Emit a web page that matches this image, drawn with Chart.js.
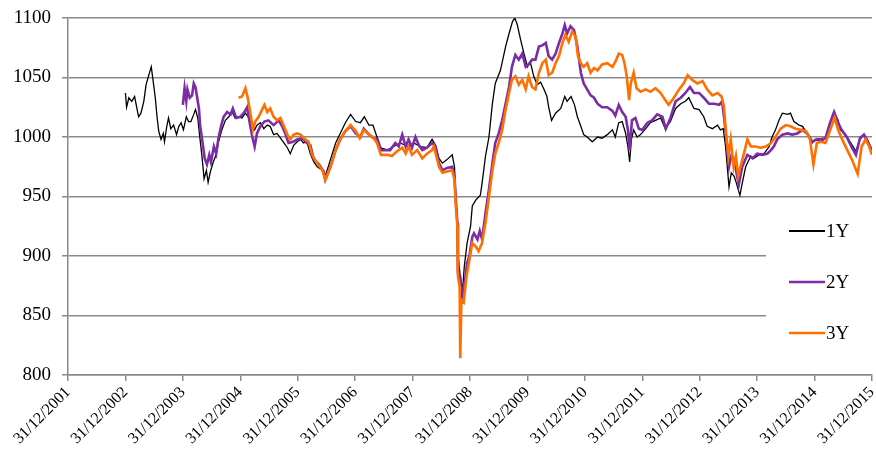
<!DOCTYPE html>
<html>
<head>
<meta charset="utf-8">
<script src="https://cdn.jsdelivr.net/npm/chart.js@4/dist/chart.umd.min.js"></script>
<style>
  html, body { margin: 0; padding: 0; background: #fff; }
  #wrap { width: 876px; height: 453px; }
</style>
</head>
<body>
<div id="wrap"><canvas id="chart" width="876" height="453"></canvas></div>
<script>
// Dados (ano decimal: 2002.0 = 31/12/2001)
const oneYDates = [2003.00,2003.02,2003.06,2003.11,2003.16,2003.20,2003.23,2003.27,2003.32,2003.36,2003.40,2003.45,2003.48,2003.52,2003.55,2003.58,2003.62,2003.66,2003.68,2003.72,2003.75,2003.79,2003.84,2003.89,2003.93,2003.97,2004.01,2004.06,2004.10,2004.14,2004.19,2004.22,2004.26,2004.29,2004.33,2004.37,2004.41,2004.44,2004.48,2004.53,2004.58,2004.62,2004.68,2004.74,2004.80,2004.86,2004.91,2004.97,2005.03,2005.09,2005.15,2005.21,2005.25,2005.29,2005.35,2005.41,2005.47,2005.52,2005.58,2005.64,2005.70,2005.76,2005.82,2005.87,2005.93,2005.99,2006.05,2006.10,2006.16,2006.22,2006.28,2006.34,2006.40,2006.45,2006.48,2006.57,2006.66,2006.74,2006.83,2006.92,2007.01,2007.09,2007.16,2007.24,2007.31,2007.38,2007.44,2007.56,2007.67,2007.79,2007.91,2008.02,2008.14,2008.25,2008.34,2008.40,2008.46,2008.52,2008.60,2008.69,2008.73,2008.75,2008.78,2008.80,2008.82,2008.85,2008.88,2008.90,2008.95,2009.01,2009.04,2009.10,2009.18,2009.21,2009.27,2009.33,2009.39,2009.44,2009.53,2009.62,2009.68,2009.74,2009.78,2009.82,2009.88,2009.94,2010.00,2010.05,2010.11,2010.17,2010.23,2010.29,2010.34,2010.37,2010.42,2010.49,2010.58,2010.65,2010.69,2010.76,2010.82,2010.87,2010.93,2010.98,2011.04,2011.13,2011.22,2011.30,2011.39,2011.48,2011.53,2011.59,2011.65,2011.71,2011.75,2011.78,2011.81,2011.85,2011.91,2011.97,2012.06,2012.14,2012.23,2012.32,2012.40,2012.49,2012.58,2012.67,2012.75,2012.81,2012.90,2012.99,2013.07,2013.13,2013.22,2013.31,2013.36,2013.41,2013.45,2013.48,2013.51,2013.55,2013.60,2013.64,2013.70,2013.74,2013.80,2013.89,2013.94,2014.03,2014.12,2014.21,2014.26,2014.32,2014.38,2014.44,2014.53,2014.58,2014.64,2014.73,2014.79,2014.87,2014.96,2015.02,2015.11,2015.19,2015.28,2015.34,2015.41,2015.45,2015.54,2015.63,2015.72,2015.79,2015.86,2015.92,2016.00];
const oneYValues = [1037,1025,1033,1030,1034,1024,1017,1020,1030,1044,1051,1059,1048,1033,1017,1005,998,1003,996,1009,1016,1007,1010,1002,1009,1012,1006,1017,1013,1013,1019,1023,1016,1002,985,965,972,962,971,979,985,996,1006,1014,1017,1021,1016,1017,1016,1020,1016,1009,1006,1010,1012,1007,1010,1009,1002,1003,999,995,991,986,993,996,998,995,996,986,979,975,973,972,967,981,995,1003,1012,1019,1013,1012,1017,1010,1010,1000,991,989,992,995,992,995,992,991,998,993,982,978,981,985,975,950,928,897,888,872,877,891,911,925,942,947,951,961,984,1000,1028,1045,1056,1076,1087,1097,1100,1095,1082,1070,1059,1063,1051,1044,1046,1040,1034,1025,1014,1020,1024,1034,1030,1034,1027,1017,1009,1002,1000,996,1000,999,1002,1006,1000,1012,1013,1003,992,979,998,1006,1000,1002,1007,1012,1014,1016,1007,1013,1024,1028,1030,1033,1024,1023,1017,1009,1007,1010,1006,1007,992,975,958,970,967,961,951,961,975,984,982,985,986,992,1000,1006,1014,1020,1019,1020,1013,1010,1009,1003,995,998,996,999,1013,1020,1014,1006,1002,995,988,998,1002,998,989];

const twoYDates = [2004.00,2004.03,2004.06,2004.08,2004.12,2004.16,2004.19,2004.22,2004.25,2004.28,2004.30,2004.35,2004.38,2004.42,2004.46,2004.49,2004.54,2004.58,2004.62,2004.67,2004.71,2004.77,2004.83,2004.87,2004.93,2005.00,2005.06,2005.12,2005.16,2005.21,2005.25,2005.29,2005.35,2005.42,2005.49,2005.58,2005.67,2005.73,2005.79,2005.84,2005.92,2005.99,2006.08,2006.16,2006.22,2006.28,2006.37,2006.45,2006.48,2006.57,2006.66,2006.74,2006.83,2006.92,2007.01,2007.09,2007.15,2007.24,2007.32,2007.39,2007.45,2007.53,2007.61,2007.70,2007.76,2007.82,2007.88,2007.93,2007.99,2008.05,2008.11,2008.17,2008.25,2008.34,2008.40,2008.46,2008.52,2008.60,2008.69,2008.73,2008.75,2008.78,2008.79,2008.83,2008.86,2008.90,2008.95,2008.99,2009.04,2009.07,2009.13,2009.17,2009.21,2009.27,2009.33,2009.39,2009.44,2009.50,2009.56,2009.62,2009.68,2009.73,2009.79,2009.85,2009.91,2009.97,2010.02,2010.08,2010.14,2010.20,2010.26,2010.32,2010.37,2010.43,2010.49,2010.55,2010.61,2010.65,2010.69,2010.75,2010.81,2010.87,2010.93,2010.98,2011.04,2011.10,2011.16,2011.22,2011.30,2011.39,2011.48,2011.53,2011.59,2011.65,2011.71,2011.75,2011.78,2011.82,2011.88,2011.94,2012.00,2012.09,2012.17,2012.26,2012.35,2012.41,2012.49,2012.58,2012.67,2012.75,2012.83,2012.90,2012.99,2013.07,2013.16,2013.25,2013.34,2013.39,2013.43,2013.47,2013.51,2013.55,2013.60,2013.64,2013.68,2013.74,2013.83,2013.92,2014.00,2014.09,2014.18,2014.24,2014.29,2014.35,2014.44,2014.53,2014.61,2014.70,2014.79,2014.87,2014.96,2015.04,2015.11,2015.19,2015.27,2015.34,2015.41,2015.47,2015.56,2015.64,2015.72,2015.79,2015.86,2015.92,2016.00];
const twoYValues = [1027,1041,1030,1040,1033,1035,1045,1042,1033,1024,1010,993,982,977,985,979,992,986,999,1010,1017,1021,1019,1024,1016,1017,1020,1025,1013,1000,992,1003,1009,1013,1014,1010,1014,1009,1002,995,996,998,999,995,993,981,977,971,964,975,989,998,1005,1009,1003,1000,1007,1002,999,998,989,989,989,995,992,1002,992,998,991,1000,993,989,991,995,992,978,972,974,975,967,950,928,886,883,866,874,894,900,916,919,914,921,914,936,956,978,995,1003,1014,1028,1042,1059,1069,1065,1070,1059,1061,1065,1065,1076,1077,1079,1068,1065,1070,1079,1087,1094,1087,1093,1090,1076,1054,1045,1040,1035,1033,1028,1025,1025,1022,1018,1027,1021,1017,1006,989,1014,1016,1007,1006,1012,1014,1019,1017,1007,1016,1030,1033,1037,1042,1037,1037,1033,1028,1028,1027,1030,1014,995,975,984,981,970,960,975,985,982,986,985,986,989,992,998,1002,1003,1002,1003,1006,1003,996,998,998,999,1012,1021,1012,1006,1000,992,985,999,1002,996,989];

const threeYDates = [2004.97,2005.03,2005.09,2005.13,2005.18,2005.22,2005.26,2005.32,2005.38,2005.42,2005.47,2005.52,2005.58,2005.64,2005.70,2005.76,2005.82,2005.87,2005.93,2005.99,2006.05,2006.13,2006.19,2006.25,2006.34,2006.43,2006.48,2006.57,2006.66,2006.74,2006.83,2006.92,2007.01,2007.08,2007.15,2007.24,2007.31,2007.38,2007.45,2007.56,2007.64,2007.73,2007.82,2007.88,2007.93,2007.99,2008.08,2008.17,2008.25,2008.34,2008.37,2008.43,2008.46,2008.52,2008.60,2008.69,2008.73,2008.75,2008.78,2008.79,2008.82,2008.83,2008.85,2008.89,2008.94,2008.98,2009.04,2009.10,2009.15,2009.21,2009.27,2009.33,2009.39,2009.44,2009.50,2009.56,2009.62,2009.68,2009.73,2009.79,2009.85,2009.91,2009.97,2010.02,2010.08,2010.14,2010.20,2010.26,2010.32,2010.37,2010.43,2010.49,2010.55,2010.61,2010.66,2010.72,2010.78,2010.84,2010.88,2010.93,2010.98,2011.04,2011.10,2011.16,2011.22,2011.30,2011.39,2011.48,2011.53,2011.59,2011.65,2011.69,2011.73,2011.77,2011.80,2011.85,2011.90,2011.97,2012.06,2012.14,2012.23,2012.32,2012.40,2012.46,2012.55,2012.64,2012.72,2012.79,2012.87,2012.96,2013.05,2013.13,2013.22,2013.31,2013.38,2013.42,2013.46,2013.50,2013.54,2013.59,2013.63,2013.67,2013.71,2013.77,2013.83,2013.89,2013.97,2014.06,2014.15,2014.24,2014.32,2014.41,2014.50,2014.58,2014.67,2014.76,2014.85,2014.92,2014.98,2015.04,2015.11,2015.19,2015.28,2015.35,2015.41,2015.48,2015.57,2015.65,2015.75,2015.82,2015.89,2015.95,2016.00];
const threeYValues = [1033,1034,1041,1033,1019,1006,1013,1017,1023,1027,1021,1024,1017,1014,1016,1009,1002,998,1002,1003,1002,998,996,985,978,972,964,975,989,998,1005,1010,1005,999,1006,1002,1000,995,985,985,984,988,991,986,992,985,989,982,986,989,992,981,975,970,971,972,964,944,925,883,874,814,863,861,883,894,911,908,904,911,928,950,972,986,995,1006,1023,1037,1048,1051,1044,1048,1040,1051,1042,1040,1054,1062,1065,1052,1054,1062,1068,1079,1086,1080,1089,1084,1068,1062,1059,1062,1054,1058,1056,1061,1062,1059,1063,1070,1069,1062,1051,1031,1045,1054,1041,1038,1040,1038,1041,1037,1031,1027,1033,1040,1045,1052,1048,1045,1047,1040,1035,1037,1034,1026,1003,984,998,975,984,967,975,986,998,992,992,991,992,995,1000,1007,1010,1009,1007,1006,1005,998,977,995,996,995,1007,1016,1006,998,989,981,969,992,998,992,985];

const yTicks = [800, 850, 900, 950, 1000, 1050, 1100];
const seriesLabels = ['1Y', '2Y', '3Y'];
const seriesColors = ['#000000', '#7a2da6', '#ff7000'];

const toPoints = (dates, values) => dates.map((d, i) => ({ x: d, y: values[i] }));
const FONT = '"Liberation Serif", "Times New Roman", serif';

// Legenda desenhada dentro da área do gráfico
const legendPlugin = {
    id: 'legendBox',
    beforeDatasetsDraw(chart) {
        const { ctx, chartArea } = chart;
        ctx.save();
        ctx.fillStyle = '#ffffff';
        ctx.fillRect(chartArea.right - 106, 204, 107, 166);
        ctx.restore();
    },
    afterDraw(chart) {
        const { ctx, chartArea } = chart;
        const x0 = chartArea.right - 83;
        ctx.save();
        ctx.font = '19px ' + FONT;
        ctx.textBaseline = 'middle';
        ctx.textAlign = 'left';
        chart.data.datasets.forEach((ds, i) => {
            const y = 231 + i * 51;
            ctx.strokeStyle = ds.borderColor;
            ctx.lineWidth = ds.borderWidth < 2 ? 1.8 : 2.5;
            ctx.beginPath();
            ctx.moveTo(x0, y);
            ctx.lineTo(x0 + 36, y);
            ctx.stroke();
            ctx.fillStyle = '#000';
            ctx.fillText(ds.label, x0 + 37, y + 1);
        });
        ctx.restore();
    }
};

new Chart(document.getElementById('chart'), {
    type: 'line',
    data: {
        datasets: [
            { label: seriesLabels[0], data: toPoints(oneYDates, oneYValues), borderColor: seriesColors[0], borderWidth: 1.3, order: 3 },
            { label: seriesLabels[1], data: toPoints(twoYDates, twoYValues), borderColor: seriesColors[1], borderWidth: 2.6, order: 2 },
            { label: seriesLabels[2], data: toPoints(threeYDates, threeYValues), borderColor: seriesColors[2], borderWidth: 2.6, order: 1 }
        ]
    },
    options: {
        responsive: false,
        animation: false,
        devicePixelRatio: 1,
        elements: { point: { radius: 0 }, line: { tension: 0, fill: false } },
        layout: { padding: { top: 18, right: 4, left: 0, bottom: 0 } },
        plugins: { legend: { display: false }, tooltip: { enabled: false } },
        scales: {
            x: {
                type: 'linear',
                min: 2002,
                max: 2016,
                afterFit: s => { s.height = 78; s.paddingLeft = 0; s.paddingRight = 0; },
                ticks: {
                    stepSize: 1,
                    autoSkip: false,
                    minRotation: 45,
                    maxRotation: 45,
                    padding: 2,
                    color: '#000',
                    font: { family: FONT, size: 16 },
                    callback: v => '31/12/' + (v - 1)
                },
                grid: { drawOnChartArea: false, drawTicks: true, tickLength: 6, color: '#8a8a8a', lineWidth: 1.5 },
                border: { color: '#8a8a8a', width: 1.5 }
            },
            y: {
                min: 800,
                max: 1100,
                afterFit: s => { s.width = 68; s.paddingTop = 0; s.paddingBottom = 0; },
                afterBuildTicks: s => { s.ticks = yTicks.map(v => ({ value: v })); },
                ticks: {
                    padding: 11,
                    color: '#000',
                    font: { family: FONT, size: 19 },
                    callback: v => String(v)
                },
                grid: { color: '#8a8a8a', lineWidth: 1.5, tickLength: 6 },
                border: { color: '#8a8a8a', width: 1.5 }
            }
        }
    },
    plugins: [legendPlugin]
});
</script>
</body>
</html>
